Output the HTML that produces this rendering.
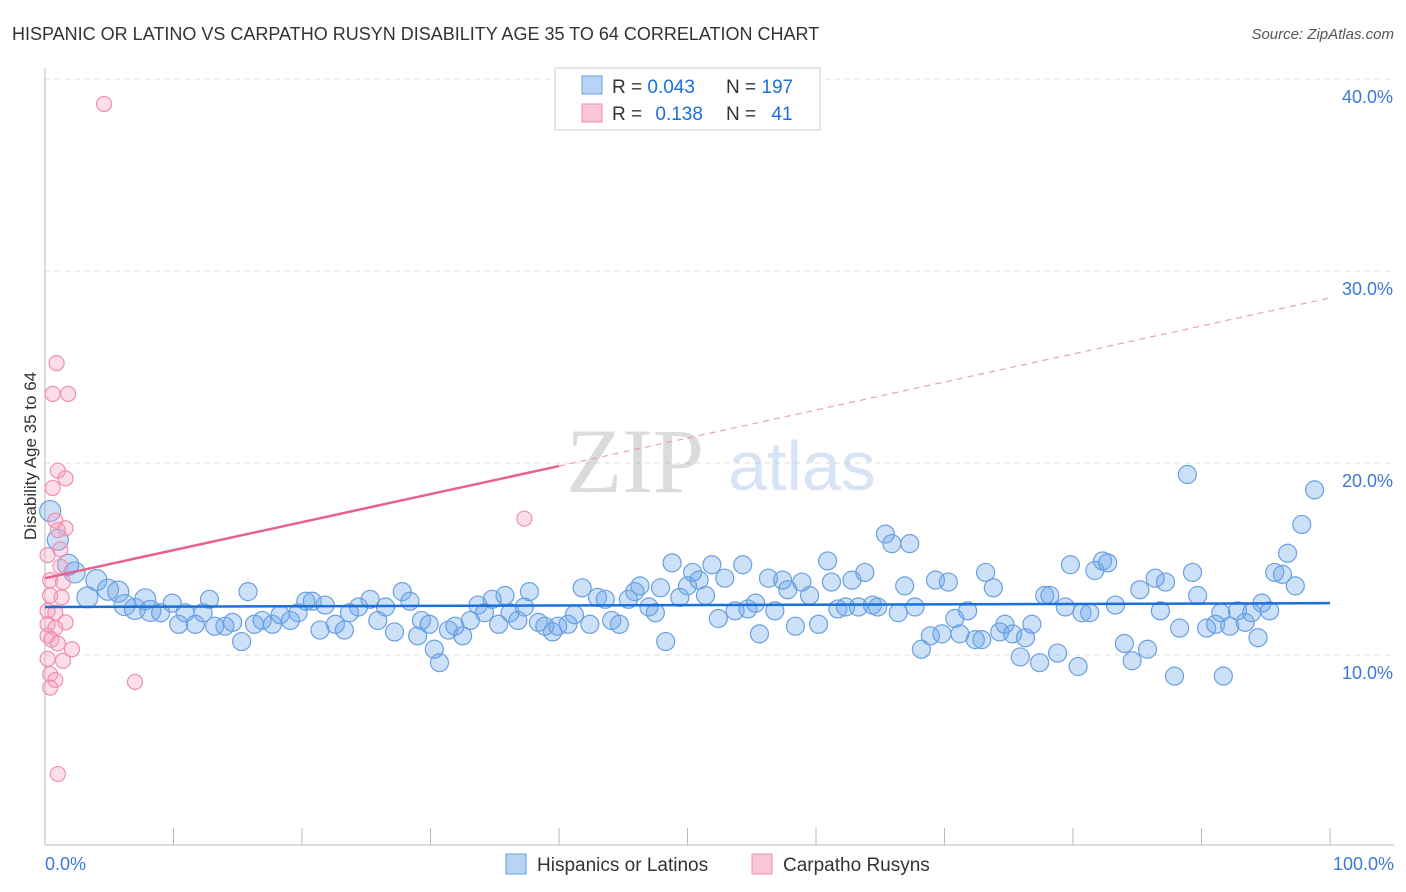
<!DOCTYPE html>
<html><head><meta charset="utf-8"><style>
body{margin:0;background:#fff;font-family:"Liberation Sans",sans-serif;}
#wrap{position:relative;width:1406px;height:892px;overflow:hidden;}
</style></head><body>
<div id="wrap">
<svg id="chart" width="1406" height="892" xmlns="http://www.w3.org/2000/svg">
<text x="12" y="40" font-size="18" fill="#333">HISPANIC OR LATINO VS CARPATHO RUSYN DISABILITY AGE 35 TO 64 CORRELATION CHART</text>
<text x="1394" y="39" font-size="15" fill="#555" font-style="italic" text-anchor="end">Source: ZipAtlas.com</text>
<g id="grid"></g>
<g opacity="0.35">
<text x="635" y="492" font-size="92" font-family="Liberation Serif,serif" fill="#999" text-anchor="middle">ZIP</text>
<text x="802" y="490" font-size="70" fill="#8fb4e6" text-anchor="middle">atlas</text>
</g>
<g id="pts"></g>
<g id="lines"></g>
<text x="36" y="456" font-size="17" fill="#333" text-anchor="middle" transform="rotate(-90 36 456)">Disability Age 35 to 64</text>
<text x="45" y="870" font-size="18" fill="#3b78d8">0.0%</text>
<text x="1394" y="870" font-size="18" fill="#3b78d8" text-anchor="end">100.0%</text>
<g>
<rect x="555" y="68" width="265" height="62" fill="#fff" stroke="#ccc"/>
<rect x="582" y="76" width="20" height="18" fill="#b7d3f5" stroke="#6aa0e0"/>
<rect x="582" y="104" width="20" height="18" fill="#f9c6d6" stroke="#ef8fb0"/>
<text x="612" y="93" font-size="19" fill="#333">R = <tspan fill="#1a6fdb">0.043</tspan></text>
<text x="726" y="93" font-size="19" fill="#333">N = <tspan fill="#1a6fdb">197</tspan></text>
<text x="612" y="120" font-size="19" fill="#333">R = <tspan fill="#1a6fdb" dx="8">0.138</tspan></text>
<text x="726" y="120" font-size="19" fill="#333">N = <tspan fill="#1a6fdb" dx="10">41</tspan></text>
</g>
<g>
<rect x="506" y="854" width="20" height="20" fill="#b7d3f5" stroke="#6aa0e0"/>
<text x="537" y="871" font-size="19" fill="#333">Hispanics or Latinos</text>
<rect x="752" y="854" width="20" height="20" fill="#f9c6d6" stroke="#ef8fb0"/>
<text x="783" y="871" font-size="19" fill="#333">Carpatho Rusyns</text>
</g>
</svg>
</div>
<script>
const yTicks=[10,20,30,40];
const xTickVals=[0,10,20,30,40,50,60,70,80,90,100];
const blueX=[0.4,1.0,1.8,2.3,3.3,4.0,4.9,5.7,6.2,7.0,7.8,8.2,9.0,9.9,10.4,10.9,11.7,12.3,12.8,13.2,14.0,14.6,15.3,15.8,16.3,16.9,17.7,18.3,19.1,19.7,20.3,20.8,21.4,21.8,22.6,23.3,23.7,24.4,25.3,25.9,26.5,27.2,27.8,28.4,29.0,29.3,29.9,30.3,30.7,31.4,31.9,32.5,33.1,33.7,34.2,34.8,35.3,35.8,36.2,36.8,37.3,37.7,38.4,38.9,39.5,39.9,40.7,41.2,41.8,42.4,43.0,43.6,44.1,44.7,45.4,45.9,46.3,47.0,47.5,47.9,48.3,48.8,49.4,50.0,50.4,50.9,51.4,51.9,52.4,52.9,53.7,54.3,54.7,55.3,55.6,56.3,56.8,57.4,57.8,58.4,58.9,59.5,60.2,60.9,61.2,61.7,62.3,62.8,63.3,63.8,64.4,64.8,65.4,65.9,66.4,66.9,67.3,67.7,68.2,68.9,69.3,69.8,70.3,70.8,71.2,71.8,72.4,72.9,73.2,73.8,74.3,74.7,75.3,75.9,76.3,76.8,77.4,77.8,78.2,78.8,79.4,79.8,80.4,80.7,81.3,81.7,82.3,82.7,83.3,84.0,84.6,85.2,85.8,86.4,86.8,87.2,87.9,88.3,88.9,89.3,89.7,90.4,91.1,91.5,91.7,92.2,92.8,93.4,93.9,94.4,94.7,95.3,95.7,96.3,96.7,97.3,97.8,98.8];
const blueY=[17.5,16.0,14.7,14.3,13.0,13.9,13.4,13.3,12.6,12.4,12.9,12.3,12.2,12.7,11.6,12.2,11.6,12.2,12.9,11.5,11.5,11.7,10.7,13.3,11.6,11.8,11.6,12.1,11.8,12.2,12.8,12.8,11.3,12.6,11.6,11.3,12.2,12.5,12.9,11.8,12.5,11.2,13.3,12.8,11.0,11.8,11.6,10.3,9.6,11.3,11.5,11.0,11.8,12.6,12.2,12.9,11.6,13.1,12.2,11.8,12.5,13.3,11.7,11.5,11.2,11.5,11.6,12.1,13.5,11.6,13.0,12.9,11.8,11.6,12.9,13.3,13.6,12.5,12.2,13.5,10.7,14.8,13.0,13.6,14.3,13.9,13.1,14.7,11.9,14.0,12.3,14.7,12.4,12.7,11.1,14.0,12.3,13.9,13.4,11.5,13.8,13.1,11.6,14.9,13.8,12.4,12.5,13.9,12.5,14.3,12.6,12.5,16.3,15.8,12.2,13.6,15.8,12.5,10.3,11.0,13.9,11.1,13.8,11.9,11.1,12.3,10.8,10.8,14.3,13.5,11.2,11.6,11.1,9.9,10.9,11.6,9.6,13.1,13.1,10.1,12.5,14.7,9.4,12.2,12.2,14.4,14.9,14.8,12.6,10.6,9.7,13.4,10.3,14.0,12.3,13.8,8.9,11.4,19.4,14.3,13.1,11.4,11.6,12.2,8.9,11.5,12.3,11.7,12.2,10.9,12.7,12.3,14.3,14.2,15.3,13.6,16.8,18.6];
const pinkX=[4.6,0.9,1.8,0.6,1.0,1.6,0.6,0.8,1.6,1.0,1.2,0.2,1.2,0.4,1.4,0.4,1.3,0.2,0.8,1.6,0.2,0.8,0.2,0.5,1.0,2.1,0.2,1.4,0.4,0.8,0.4,7.0,1.0,37.3];
const pinkY=[38.7,25.2,23.6,23.6,19.6,19.2,18.7,17.0,16.6,16.5,15.5,15.2,14.6,13.9,13.8,13.1,13.0,12.3,12.2,11.7,11.6,11.4,11.0,10.8,10.6,10.3,9.8,9.7,9.0,8.7,8.3,8.6,3.8,17.1];
const blueTrend=[12.5,12.7];
const pinkTrend=[14.0,28.6];
const X0=45,X1=1330,Y0=847,PX=19.2;
const xs=v=>X0+(X1-X0)*v/100, ys=v=>Y0-PX*v;
const NS="http://www.w3.org/2000/svg";
function mk(t,a,p){const e=document.createElementNS(NS,t);for(const k in a)e.setAttribute(k,a[k]);p.appendChild(e);return e;}
const grid=document.getElementById('grid');
yTicks.forEach(v=>{
 const l=mk('line',{x1:X0,x2:1394,y1:ys(v),y2:ys(v),stroke:'#ddd','stroke-dasharray':'5,5'},grid);
 
 
 const t=mk('text',{x:1393,y:ys(v)+24,'font-size':18,fill:'#3b78d8','text-anchor':'end'},grid);
 t.textContent=v.toFixed(1)+'%';
 
 
});
const ax=mk('line',{x1:X0,x2:X0,y1:68,y2:845,stroke:'#bbb'},grid);


const bx=mk('line',{x1:X0,x2:1394,y1:845,y2:845,stroke:'#bbb'},grid);


xTickVals.forEach(v=>{
 const t=mk('line',{x1:xs(v),x2:xs(v),y1:828,y2:845,stroke:'#bbb'},grid);
 
 
});
const pts=document.getElementById('pts');
blueX.forEach((x,i)=>{
 const c=mk('circle',{cx:xs(x),cy:ys(blueY[i]),r:i<12?10.5:9,fill:'rgba(110,165,235,0.35)',stroke:'#6aa0e0','stroke-width':1.2},pts);
 
 
});
pinkX.forEach((x,i)=>{
 const c=mk('circle',{cx:xs(x),cy:ys(pinkY[i]),r:7.5,fill:'rgba(245,160,190,0.35)',stroke:'#ef8fb0','stroke-width':1.2},pts);
 
 
});
const lines=document.getElementById('lines');
const bl=mk('line',{x1:xs(0),y1:ys(blueTrend[0]),x2:xs(100),y2:ys(blueTrend[1]),stroke:'#1a6fdb','stroke-width':2.5},lines);


const pmid=pinkTrend[0]+(pinkTrend[1]-pinkTrend[0])*0.4;
const ps=mk('line',{x1:xs(0),y1:ys(pinkTrend[0]),x2:xs(40),y2:ys(pmid),stroke:'#e8608f','stroke-width':2.5},lines);


const pd=mk('line',{x1:xs(40),y1:ys(pmid),x2:xs(100),y2:ys(pinkTrend[1]),stroke:'#e8a0b8','stroke-width':1.2,'stroke-dasharray':'6,5'},lines);


</script>
</body></html>
